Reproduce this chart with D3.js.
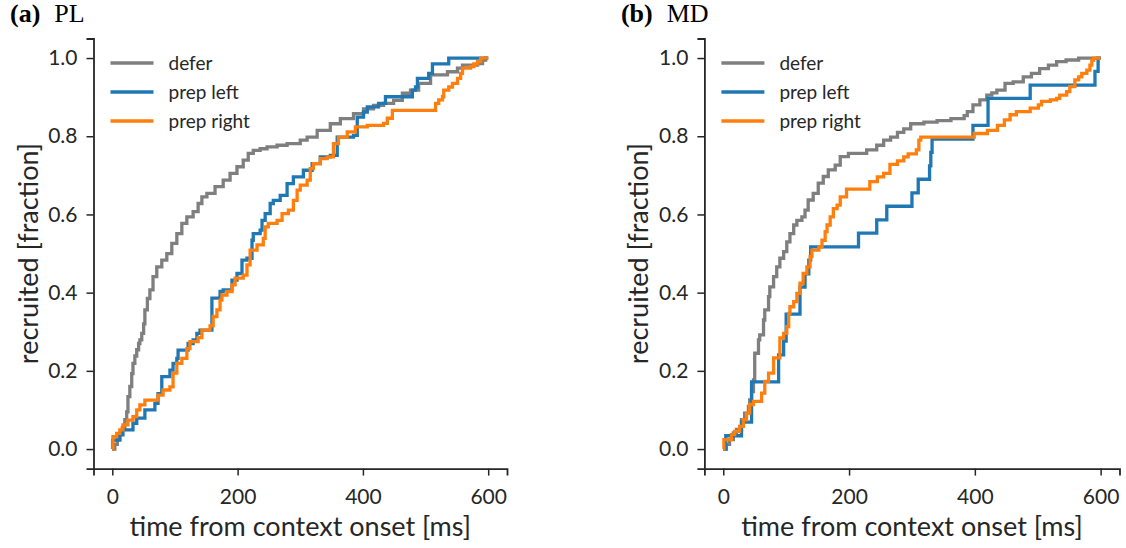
<!DOCTYPE html>
<html>
<head>
<meta charset="utf-8">
<script src="https://cdn.jsdelivr.net/npm/d3@7"></script>
<style>
  html, body { margin: 0; padding: 0; background: #ffffff; }
  svg { display: block; }
</style>
</head>
<body>
<svg id="chart" width="1126" height="548"></svg>
<script>
// ---- data -------------------------------------------------------------
const seriesNames  = ["defer", "prep left", "prep right"];
const seriesColors = ["#7f7f7f", "#1f77b4", "#ff7f0e"];
const xTicks = [0, 200, 400, 600];
const yTicks = [0.0, 0.2, 0.4, 0.6, 0.8, 1.0];
const panelLetters = ["(a)", "(b)"];
const panelNames   = ["PL", "MD"];

// cumulative recruitment: [time from context onset (ms), fraction recruited]
const plDefer = [[0,0],[4,0.012],[8,0.025],[12,0.04],[16,0.055],[20,0.075],[23,0.095],[25,0.134],[28,0.16],[31,0.193],[33,0.219],[36,0.238],[39,0.254],[42,0.27],[44,0.279],[47,0.296],[50,0.32],[52,0.356],[56,0.385],[60,0.407],[65,0.441],[71,0.466],[79,0.483],[87,0.5],[95,0.526],[103,0.551],[111,0.577],[119,0.594],[129,0.607],[137,0.628],[143,0.645],[151,0.654],[164,0.671],[177,0.688],[188,0.705],[199,0.722],[209,0.739],[217,0.756],[225,0.764],[236,0.768],[247,0.773],[263,0.777],[279,0.781],[300,0.79],[311,0.798],[327,0.815],[348,0.832],[364,0.845],[385,0.858],[401,0.87],[417,0.879],[433,0.884],[449,0.892],[463,0.91],[476,0.918],[489,0.935],[508,0.957],[535,0.965],[551,0.974],[559,0.982],[583,0.986],[591,0.995],[596,1.0],[600,1.0]];

const plPrepLeft = [[0,0],[0.5,0.023],[12,0.036],[17,0.049],[33,0.066],[39,0.079],[52,0.1],[68,0.117],[73,0.142],[79,0.185],[92,0.202],[97,0.219],[103,0.232],[105,0.253],[121,0.27],[129,0.279],[135,0.296],[140,0.304],[159,0.386],[172,0.403],[177,0.407],[191,0.432],[199,0.449],[207,0.483],[215,0.488],[223,0.534],[225,0.551],[236,0.56],[239,0.585],[244,0.602],[252,0.628],[257,0.636],[268,0.649],[279,0.679],[289,0.696],[305,0.713],[319,0.73],[332,0.747],[348,0.751],[359,0.798],[385,0.802],[391,0.849],[401,0.862],[407,0.875],[425,0.884],[436,0.901],[479,0.918],[484,0.926],[487,0.948],[505,0.961],[511,0.985],[537,1.0],[600,1.0]];

const plPrepRight = [[0,0],[1,0.032],[7,0.04],[12,0.049],[17,0.062],[25,0.074],[33,0.083],[39,0.1],[44,0.113],[52,0.125],[73,0.138],[81,0.151],[92,0.159],[97,0.194],[103,0.219],[111,0.232],[119,0.257],[124,0.275],[137,0.285],[143,0.304],[156,0.315],[161,0.339],[167,0.356],[172,0.381],[175,0.394],[183,0.403],[191,0.42],[196,0.437],[209,0.445],[215,0.471],[220,0.509],[231,0.522],[241,0.539],[244,0.568],[249,0.577],[263,0.585],[271,0.602],[281,0.611],[289,0.636],[295,0.662],[300,0.675],[311,0.688],[316,0.717],[321,0.73],[332,0.743],[343,0.747],[353,0.781],[361,0.798],[375,0.811],[388,0.824],[407,0.828],[433,0.833],[439,0.846],[447,0.866],[516,0.884],[521,0.893],[527,0.901],[529,0.918],[537,0.926],[543,0.935],[551,0.948],[556,0.961],[559,0.974],[572,0.978],[577,0.985],[583,0.991],[588,1.0],[600,1.0]];

const mdDefer = [[0,0],[5,0.012],[10,0.024],[16,0.041],[21,0.05],[29,0.075],[34,0.092],[40,0.109],[42,0.126],[45,0.147],[48,0.177],[50,0.245],[56,0.279],[58,0.292],[64,0.33],[66,0.356],[72,0.39],[74,0.415],[80,0.441],[85,0.466],[90,0.488],[96,0.505],[101,0.53],[106,0.551],[112,0.573],[117,0.585],[125,0.594],[130,0.611],[135,0.637],[143,0.654],[151,0.68],[159,0.697],[167,0.714],[178,0.726],[186,0.748],[199,0.756],[228,0.765],[244,0.777],[255,0.79],[266,0.798],[277,0.81],[287,0.819],[298,0.832],[319,0.836],[340,0.84],[362,0.845],[383,0.853],[388,0.863],[397,0.88],[408,0.893],[419,0.905],[427,0.911],[435,0.918],[448,0.935],[461,0.939],[477,0.952],[490,0.961],[503,0.973],[517,0.982],[530,0.991],[545,0.995],[565,1.0],[600,1.0]];

const mdPrepLeft = [[0,0],[4,0.034],[29,0.069],[45,0.172],[88,0.241],[96,0.276],[100,0.345],[122,0.414],[130,0.448],[136,0.483],[139,0.517],[215,0.552],[244,0.586],[260,0.621],[300,0.655],[310,0.69],[328,0.724],[330,0.759],[332,0.793],[397,0.828],[421,0.897],[488,0.931],[591,0.966],[596,1.0],[600,1.0]];

const mdPrepRight = [[0,0],[1,0.024],[13,0.037],[18,0.045],[26,0.058],[32,0.075],[37,0.092],[42,0.114],[48,0.122],[61,0.143],[66,0.173],[72,0.194],[80,0.233],[90,0.284],[96,0.296],[101,0.313],[104,0.347],[106,0.364],[112,0.377],[117,0.398],[122,0.424],[127,0.449],[133,0.466],[138,0.492],[141,0.509],[152,0.517],[157,0.534],[162,0.556],[165,0.573],[170,0.594],[175,0.615],[181,0.624],[186,0.645],[196,0.665],[233,0.684],[245,0.696],[255,0.705],[265,0.728],[277,0.737],[287,0.747],[294,0.755],[307,0.765],[311,0.79],[314,0.798],[399,0.807],[420,0.815],[436,0.828],[447,0.842],[456,0.855],[466,0.863],[488,0.872],[501,0.88],[506,0.889],[520,0.893],[530,0.897],[535,0.905],[546,0.914],[551,0.927],[559,0.944],[565,0.952],[570,0.961],[578,0.969],[583,0.982],[586,0.995],[589,1.0],[600,1.0]];

const panelSeries = [
  [plDefer, plPrepLeft, plPrepRight],
  [mdDefer, mdPrepLeft, mdPrepRight]
];

// ---- layout -----------------------------------------------------------
const SANS = "Lato, 'Noto Sans', sans-serif";
const SERIF = "'Liberation Serif', 'DejaVu Serif', serif";
const INK = "#262626";
const panels = [
  { left: 93.5,  right: 507.0 },
  { left: 704.4, right: 1119.5 }
];
const plotTop = 38.5, plotBottom = 468.6;

const svg = d3.select("#chart");

panels.forEach((p, i) => {
  const x = d3.scaleLinear().domain([-30, 630]).range([p.left, p.right]);
  const y = d3.scaleLinear().domain([-0.05, 1.05]).range([plotBottom, plotTop]);
  const g = svg.append("g");

  // panel title
  const title = g.append("text")
    .attr("x", p.left - 83.5)
    .attr("y", 22)
    .attr("font-family", SERIF)
    .attr("font-size", 26)
    .attr("fill", "#000");
  title.append("tspan").attr("font-weight", "bold").text(panelLetters[i]);
  title.append("tspan").attr("dx", 14).text(panelNames[i]);

  // axes
  const xAxis = g.append("g")
    .attr("transform", `translate(0,${plotBottom})`)
    .call(d3.axisBottom(x).tickValues(xTicks).tickFormat(d3.format("d"))
      .tickSizeOuter(0).tickSize(7).tickPadding(13));
  const yAxis = g.append("g")
    .attr("transform", `translate(${p.left},0)`)
    .call(d3.axisLeft(y).tickValues(yTicks).tickFormat(d3.format(".1f"))
      .tickSizeOuter(0).tickSize(7).tickPadding(9));

  [xAxis, yAxis].forEach(ax => {
    ax.select(".domain").attr("stroke", INK).attr("stroke-width", 1.8);
    ax.selectAll(".tick line").attr("stroke", INK).attr("stroke-width", 1.5);
    ax.selectAll(".tick text")
      .attr("font-family", SANS).attr("font-size", 21).attr("fill", INK);
  });

  // axis labels
  g.append("text")
    .attr("x", (x(0) + x(600)) / 2)
    .attr("y", 536)
    .attr("text-anchor", "middle")
    .attr("font-family", SANS).attr("font-size", 27).attr("fill", INK)
    .text("time from context onset [ms]");
  g.append("text")
    .attr("transform", `translate(${p.left - 56},${(plotTop + plotBottom) / 2}) rotate(-90)`)
    .attr("text-anchor", "middle")
    .attr("font-family", SANS).attr("font-size", 27).attr("fill", INK)
    .text("recruited [fraction]");

  // cumulative step curves
  const line = d3.line()
    .x(d => x(d[0]))
    .y(d => y(d[1]))
    .curve(d3.curveStepAfter);
  panelSeries[i].forEach((data, k) => {
    g.append("path")
      .datum(data)
      .attr("d", line)
      .attr("fill", "none")
      .attr("stroke", seriesColors[k])
      .attr("stroke-width", 3.3)
      .attr("stroke-linejoin", "miter");
  });

  // legend
  const lg = g.append("g").attr("transform", `translate(${p.left + 17},63)`);
  seriesNames.forEach((name, k) => {
    const row = lg.append("g").attr("transform", `translate(0,${k * 29})`);
    row.append("line")
      .attr("x1", 0).attr("x2", 43).attr("y1", 0).attr("y2", 0)
      .attr("stroke", seriesColors[k]).attr("stroke-width", 3.3);
    row.append("text")
      .attr("x", 58).attr("y", 0).attr("dy", "0.35em")
      .attr("font-family", SANS).attr("font-size", 19).attr("fill", INK)
      .text(name);
  });
});
</script>
</body>
</html>
